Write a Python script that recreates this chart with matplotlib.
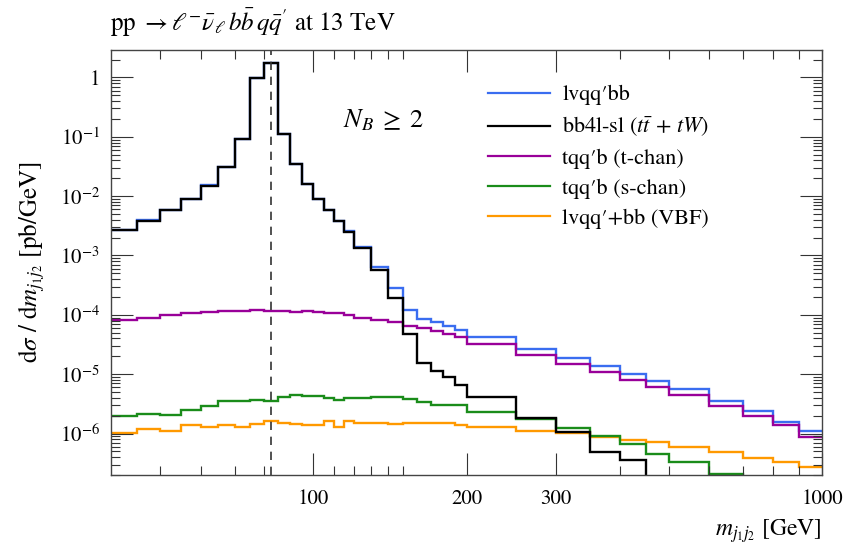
import matplotlib
matplotlib.use('Agg')
import matplotlib.pyplot as plt
from matplotlib.ticker import FixedLocator, LogLocator, FuncFormatter, NullFormatter
import numpy as np

plt.rcParams['font.family'] = 'STIXGeneral'
plt.rcParams['mathtext.fontset'] = 'stix'

# bin edges in m_j1j2 [GeV]
bin_edges = [40, 45, 50, 55, 60, 65, 70, 75, 80, 85, 90, 95, 100, 105, 110, 115, 120,
             130, 140, 150, 160, 170, 180, 190, 200,
             250, 300, 350, 400, 450, 500,
             600, 700, 800, 900, 1000]

lvqqbb = [2.73e-3, 3.94e-3, 5.84e-3, 9.0e-3, 1.52e-2, 3.12e-2, 9.1e-2, 0.99, 1.73, 0.111,
          3.5e-2, 1.62e-2, 9.0e-3, 5.84e-3, 3.85e-3, 2.55e-3, 1.40e-3, 6.5e-4, 2.8e-4, 1.19e-4,
          8.5e-5, 7.7e-5, 6.6e-5, 5.6e-5, 4.3e-5, 2.7e-5, 1.87e-5, 1.35e-5, 1.02e-5, 7.8e-6,
          5.6e-6, 3.6e-6, 2.43e-6, 1.57e-6, 1.12e-6]

bb4l_sl = [2.64e-3, 3.84e-3, 5.73e-3, 8.9e-3, 1.51e-2, 3.11e-2, 9.1e-2, 0.99, 1.73, 0.111,
           3.5e-2, 1.61e-2, 8.9e-3, 5.73e-3, 3.74e-3, 2.44e-3, 1.33e-3, 5.6e-4, 1.92e-4, 4.8e-5,
           1.55e-5, 1.12e-5, 9.0e-6, 6.7e-6, 4.2e-6, 1.83e-6, 1.05e-6, 4.8e-7, 3.6e-7, 0,
           0, 0, 0, 0, 0]

tchan = [8.2e-5, 8.9e-5, 9.8e-5, 1.06e-4, 1.13e-4, 1.14e-4, 1.15e-4, 1.2e-4, 1.18e-4, 1.15e-4,
         1.11e-4, 1.14e-4, 1.10e-4, 1.06e-4, 1.06e-4, 9.9e-5, 8.9e-5, 8.2e-5, 7.7e-5, 6.5e-5,
         6.0e-5, 5.25e-5, 4.8e-5, 4.3e-5, 3.2e-5, 2.07e-5, 1.48e-5, 1.09e-5, 8.1e-6, 6.1e-6,
         4.4e-6, 2.95e-6, 2.0e-6, 1.41e-6, 8.6e-7]

schan = [1.95e-6, 2.16e-6, 2.08e-6, 2.46e-6, 2.95e-6, 3.58e-6, 3.6e-6, 3.7e-6, 3.55e-6, 4.1e-6,
         4.5e-6, 4.35e-6, 4.3e-6, 3.97e-6, 3.7e-6, 3.97e-6, 3.9e-6, 4.1e-6, 4.2e-6, 3.8e-6,
         3.4e-6, 3.0e-6, 3.0e-6, 3.05e-6, 2.34e-6, 1.74e-6, 1.24e-6, 9.2e-7, 6.7e-7, 4.6e-7,
         3.3e-7, 2.05e-7, 0, 0, 0]

vbf = [1.02e-6, 1.18e-6, 1.12e-6, 1.37e-6, 1.27e-6, 1.39e-6, 1.31e-6, 1.47e-6, 1.63e-6, 1.51e-6,
       1.45e-6, 1.42e-6, 1.38e-6, 1.65e-6, 1.27e-6, 1.6e-6, 1.51e-6, 1.52e-6, 1.45e-6, 1.5e-6,
       1.5e-6, 1.52e-6, 1.5e-6, 1.38e-6, 1.31e-6, 1.12e-6, 1.02e-6, 8.6e-7, 7.7e-7, 7.1e-7,
       5.9e-7, 4.9e-7, 3.8e-7, 3.3e-7, 2.7e-7]

series = [
    (lvqqbb, '#3a6df0', 'lvqq′bb'),
    (bb4l_sl, '#000000', r'bb4l-sl ($t\bar{t}\,+\,tW$)'),
    (tchan, '#990099', 'tqq′b (t-chan)'),
    (schan, '#1a8c1a', 'tqq′b (s-chan)'),
    (vbf, '#ff9900', 'lvqq′+bb (VBF)'),
]
draw_order = [0, 4, 3, 2, 1]

x_major = [100, 200, 300, 1000]
x_minor = [50, 60, 70, 80, 110, 120, 130, 140, 150, 400, 500, 600, 700, 800, 900]
y_major = [1e-6, 1e-5, 1e-4, 1e-3, 1e-2, 1e-1, 1]
m_line = 82.5

fig = plt.figure(figsize=(8.5, 5.53), dpi=100)
ax = fig.add_axes([0.1306, 0.141, 0.8365, 0.7686])

for i in draw_order:
    vals, col, lab = series[i]
    ax.stairs(vals, bin_edges, baseline=None, color=col, lw=1.7)
for vals, col, lab in series:
    ax.plot([], [], color=col, lw=1.6, label=lab)

ax.axvline(m_line, color='#333333', lw=1.2, ls=(0, (5, 4)))

ax.set_xscale('log')
ax.set_yscale('log')
ax.set_xlim(40, 1000)
ax.set_ylim(2.0e-7, 2.9)

ax.xaxis.set_major_locator(FixedLocator(x_major))
ax.xaxis.set_major_formatter(FuncFormatter(lambda v, p: '%d' % v))
ax.xaxis.set_minor_locator(FixedLocator(x_minor))
ax.xaxis.set_minor_formatter(NullFormatter())

ax.yaxis.set_major_locator(FixedLocator(y_major))
ax.yaxis.set_minor_locator(LogLocator(base=10, subs=np.arange(2, 10), numticks=20))
ax.yaxis.set_minor_formatter(NullFormatter())
ax.yaxis.set_major_formatter(FuncFormatter(
    lambda v, p: '1' if abs(v - 1) < 1e-9 else r'$10^{%d}$' % round(np.log10(v))))

ax.tick_params(which='both', direction='in', top=True, right=True,
               color='#333333', width=0.8, labelsize=15)
ax.tick_params(which='major', length=16, pad=8)
ax.tick_params(which='minor', length=6.5)
ax.tick_params(axis='x', which='major', pad=10)
for s in ax.spines.values():
    s.set_color('#444444')
    s.set_linewidth(1.0)

ax.set_ylabel(r'd$\sigma$ / d$m_{j_1j_2}$ [pb/GeV]', fontsize=18, labelpad=9)
ax.set_xlabel(r'$m_{j_1j_2}$ [GeV]', fontsize=17, loc='right', labelpad=6)

fig.text(0.13, 0.958, r'pp $\rightarrow \ell^{-}\bar{\nu}_{\ell}\, b\bar{b}\, q\bar{q}^{\prime}$ at 13 TeV',
         fontsize=18, ha='left', va='center')

ax.text(0.383, 0.835, r'$N_B \;\geq\; 2$', transform=ax.transAxes, fontsize=19,
        ha='center', va='center')

ax.legend(loc='upper left', bbox_to_anchor=(0.530, 0.918), frameon=False,
          fontsize=16, handlelength=2.8, handletextpad=0.55, labelspacing=0.42,
          borderpad=0, borderaxespad=0)

fig.savefig('out.png', dpi=100)
